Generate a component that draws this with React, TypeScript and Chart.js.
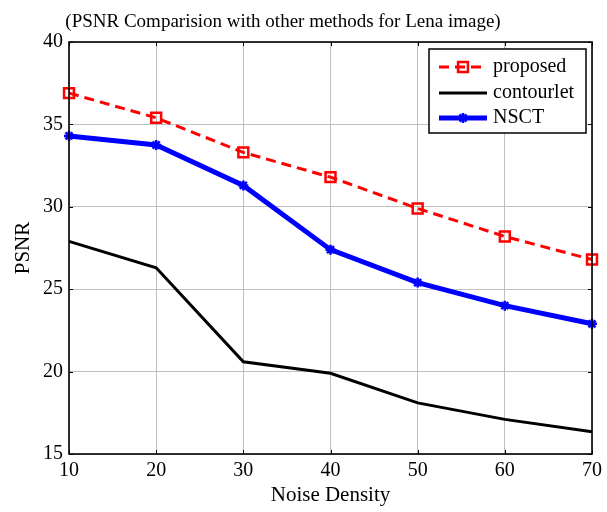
import { useEffect, useRef } from "react";
import { Chart, registerables } from "chart.js";
Chart.register(...registerables);

const noiseDensity = [10, 20, 30, 40, 50, 60, 70];
const proposed = [36.9, 35.4, 33.3, 31.8, 29.9, 28.2, 26.8];
const contourlet = [27.9, 26.3, 20.6, 19.9, 18.1, 17.1, 16.35];
const nsct = [34.3, 33.75, 31.3, 27.4, 25.4, 24.0, 22.9];
const seriesLabels = ["proposed", "contourlet", "NSCT"];
const titleText = "(PSNR Comparision with other methods for Lena image)";
const xTitle = "Noise Density";
const yTitle = "PSNR";

const FONT = "'Liberation Serif', 'Times New Roman', serif";

function drawMarker(ctx: CanvasRenderingContext2D, style: string, r: number, x: number, y: number) {
  ctx.beginPath();
  if (style === "rect") {
    const s = r * Math.SQRT1_2;
    ctx.rect(x - s, y - s, 2 * s, 2 * s);
  } else if (style === "star") {
    for (let k = 0; k < 4; k++) {
      const ang = (k * Math.PI) / 4;
      ctx.moveTo(x - Math.cos(ang) * r, y - Math.sin(ang) * r);
      ctx.lineTo(x + Math.cos(ang) * r, y + Math.sin(ang) * r);
    }
  }
  ctx.stroke();
}

const framePlugin = {
  id: "frame",
  afterDraw(chart: any) {
    const { ctx, chartArea: a, scales } = chart;
    ctx.save();
    // title
    ctx.fillStyle = "#000";
    ctx.font = `19px ${FONT}`;
    ctx.textAlign = "center";
    ctx.textBaseline = "alphabetic";
    ctx.fillText(titleText, 283, 27);
    // inward ticks
    ctx.strokeStyle = "#000";
    ctx.lineWidth = 1;
    const tl = 4;
    scales.x.ticks.forEach((t: any) => {
      const px = Math.round(scales.x.getPixelForValue(t.value)) + 0.5;
      ctx.beginPath();
      ctx.moveTo(px, a.bottom);
      ctx.lineTo(px, a.bottom - tl);
      ctx.moveTo(px, a.top);
      ctx.lineTo(px, a.top + tl);
      ctx.stroke();
    });
    scales.y.ticks.forEach((t: any) => {
      const py = Math.round(scales.y.getPixelForValue(t.value)) + 0.5;
      ctx.beginPath();
      ctx.moveTo(a.left, py);
      ctx.lineTo(a.left + tl, py);
      ctx.moveTo(a.right, py);
      ctx.lineTo(a.right - tl, py);
      ctx.stroke();
    });
    // frame
    ctx.lineWidth = 1.6;
    ctx.strokeRect(a.left, a.top, a.right - a.left, a.bottom - a.top);

    // legend
    const bx = 429, by = 49, bw = 157, bh = 84;
    ctx.fillStyle = "#fff";
    ctx.fillRect(bx, by, bw, bh);
    ctx.lineWidth = 1.5;
    ctx.strokeStyle = "#000";
    ctx.strokeRect(bx, by, bw, bh);
    const rows = [67, 93, 118];
    chart.data.datasets.forEach((ds: any, i: number) => {
      const y = rows[i];
      ctx.save();
      ctx.strokeStyle = ds.borderColor;
      ctx.lineWidth = ds.borderWidth;
      ctx.setLineDash(ds.borderDash || []);
      ctx.beginPath();
      ctx.moveTo(439, y);
      ctx.lineTo(487, y);
      ctx.stroke();
      ctx.restore();
      if (ds.pointRadius > 0) {
        ctx.save();
        ctx.strokeStyle = ds.pointBorderColor;
        ctx.lineWidth = ds.pointBorderWidth;
        drawMarker(ctx, ds.pointStyle, ds.pointRadius, 463, y);
        ctx.restore();
      }
      ctx.fillStyle = "#000";
      ctx.font = `20px ${FONT}`;
      ctx.textAlign = "left";
      ctx.textBaseline = "middle";
      ctx.fillText(ds.label, 493, y);
    });
    ctx.restore();
  },
};

export default function App() {
  const ref = useRef<HTMLCanvasElement>(null);
  useEffect(() => {
    if (!ref.current) return;
    Chart.defaults.font.family = FONT;
    const mk = (xs: number[], ys: number[]) => xs.map((x, i) => ({ x, y: ys[i] }));
    const chart = new Chart(ref.current, {
      type: "line",
      data: {
        datasets: [
          {
            label: seriesLabels[0],
            data: mk(noiseDensity, proposed),
            borderColor: "#ff0000",
            borderWidth: 3,
            borderDash: [10, 6],
            pointStyle: "rect",
            pointRadius: 7,
            pointBorderWidth: 2.5,
            pointBorderColor: "#ff0000",
            pointBackgroundColor: "rgba(0,0,0,0)",
            tension: 0,
            clip: false,
          } as any,
          {
            label: seriesLabels[1],
            data: mk(noiseDensity, contourlet),
            borderColor: "#000000",
            borderWidth: 3,
            pointRadius: 0,
            tension: 0,
            clip: false,
          } as any,
          {
            label: seriesLabels[2],
            data: mk(noiseDensity, nsct),
            borderColor: "#0000ff",
            borderWidth: 5,
            pointStyle: "star",
            pointRadius: 5,
            pointBorderWidth: 2.5,
            pointBorderColor: "#0000ff",
            pointBackgroundColor: "#0000ff",
            tension: 0,
            clip: false,
          } as any,
        ],
      },
      options: {
        responsive: false,
        animation: false,
        layout: { padding: { top: 42, right: 12, left: 0, bottom: 0 } },
        plugins: { legend: { display: false }, title: { display: false }, tooltip: { enabled: false } },
        scales: {
          x: {
            type: "linear",
            min: 10,
            max: 70,
            ticks: { stepSize: 10, color: "#000", font: { size: 20, family: FONT }, padding: 5, maxRotation: 0 },
            grid: { color: "#c0c0c0", lineWidth: 1, drawTicks: false },
            border: { display: false },
            title: { display: true, text: xTitle, color: "#000", font: { size: 21, family: FONT }, padding: { top: 0, bottom: 4 } },
            afterFit: (s: any) => { s.height = 58; },
          },
          y: {
            type: "linear",
            min: 15,
            max: 40,
            ticks: { stepSize: 5, color: "#000", font: { size: 20, family: FONT }, padding: 6 },
            grid: { color: "#c0c0c0", lineWidth: 1, drawTicks: false },
            border: { display: false },
            title: { display: true, text: yTitle, color: "#000", font: { size: 21, family: FONT }, padding: { top: 11, bottom: 0 } },
            afterFit: (s: any) => { s.width = 69; },
          },
        },
      } as any,
      plugins: [framePlugin],
    });
    return () => chart.destroy();
  }, []);
  return (
    <div style={{ position: "fixed", left: 0, top: 0, width: 607, height: 512, background: "#fff" }}>
      <canvas ref={ref} width={607} height={512} />
    </div>
  );
}
